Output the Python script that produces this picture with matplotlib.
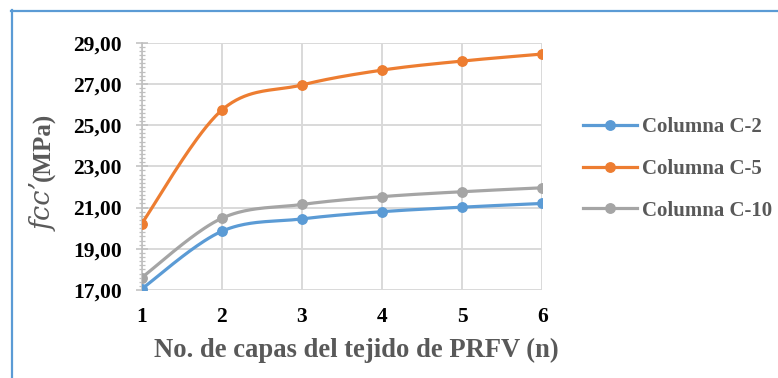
import numpy as np
import matplotlib
matplotlib.use("Agg")
import matplotlib.pyplot as plt
from matplotlib.lines import Line2D
from matplotlib.ticker import MultipleLocator, FuncFormatter

plt.rcParams["font.family"] = ["Liberation Serif", "DejaVu Serif"]

# Number of FRP layers
capas = [1, 2, 3, 4, 5, 6]

# Confined strength f'cc (MPa) per column
columna_c2 = [17.05, 19.85, 20.45, 20.80, 21.02, 21.20]
columna_c5 = [20.22, 25.73, 26.95, 27.67, 28.11, 28.45]
columna_c10 = [17.60, 20.48, 21.15, 21.53, 21.77, 21.96]

series_labels = ["Columna C-2", "Columna C-5", "Columna C-10"]
series_colors = ["#5B9BD5", "#ED7D31", "#A5A5A5"]

y_ticks = [17, 19, 21, 23, 25, 27, 29]


def smooth(x, y, n=40):
    """Piecewise cubic Bezier curve through the points (Catmull-Rom style)."""
    x = np.asarray(x, float)
    y = np.asarray(y, float)
    px = np.concatenate([[x[0]], x, [x[-1]]])
    py = np.concatenate([[y[0]], y, [y[-1]]])
    t = np.linspace(0, 1, n)[:, None]
    xs, ys = [], []
    for i in range(len(x) - 1):
        p0 = np.array([px[i + 1], py[i + 1]])
        p3 = np.array([px[i + 2], py[i + 2]])
        c1 = p0 + (np.array([px[i + 2], py[i + 2]]) - np.array([px[i], py[i]])) / 6
        c2 = p3 - (np.array([px[i + 3], py[i + 3]]) - np.array([px[i + 1], py[i + 1]])) / 6
        b = ((1 - t) ** 3) * p0 + 3 * ((1 - t) ** 2) * t * c1 + 3 * (1 - t) * t ** 2 * c2 + t ** 3 * p3
        xs.append(b[:, 0])
        ys.append(b[:, 1])
    return np.concatenate(xs), np.concatenate(ys)


W, H = 778, 378
fig = plt.figure(figsize=(W / 100, H / 100), dpi=100)
ax = fig.add_axes([141.7 / W, 1 - 290 / H, 400.6 / W, 247.3 / H])

grid_c = "#D9D9D9"
for data, color, label in zip([columna_c2, columna_c5, columna_c10], series_colors, series_labels):
    sx, sy = smooth(capas, data)
    ax.plot(sx, sy, color=color, lw=2.3, solid_capstyle="round", zorder=3)
    ax.plot(capas, data, "o", color=color, ms=6.8, zorder=4)

ax.set_xlim(1, 6)
ax.set_ylim(17, 29)
ax.set_xticks(capas)
ax.set_yticks(y_ticks)
ax.yaxis.set_minor_locator(MultipleLocator(0.2))
ax.yaxis.set_major_formatter(FuncFormatter(lambda v, p: f"{v:.2f}".replace(".", ",")))

ax.grid(True, which="major", color=grid_c, lw=1.4, zorder=0)
for s in ["top", "right", "bottom"]:
    ax.spines[s].set_visible(False)
ax.spines["left"].set_color("#BFBFBF")
ax.spines["left"].set_linewidth(1.2)

ax.tick_params(axis="y", which="major", direction="inout", length=8, width=1.1,
               color="#BFBFBF", pad=10.5, labelsize=15.5, labelcolor="black")
ax.tick_params(axis="y", which="minor", direction="inout", length=5, width=0.9,
               color="#BFBFBF")
ax.tick_params(axis="x", which="both", length=0, pad=12, labelsize=15.5, labelcolor="black")
for lab in ax.get_xticklabels() + ax.get_yticklabels():
    lab.set_fontweight("bold")

ax.set_xlabel("No. de capas del tejido de PRFV (n)", fontsize=19.2, fontweight="bold",
              color="#595959")
ax.xaxis.set_label_coords(0.536, -0.195)

# Y axis title: italic symbol followed by the bold unit, stacked along the rotated baseline
lab_x = 44 / W
sym = fig.text(lab_x, 1 - 231 / H, "fcc’", rotation=90, ha="center", va="bottom",
               fontsize=19.5, style="italic", family=["DejaVu Serif"], color="#595959")
fig.canvas.draw()
bb = sym.get_window_extent(fig.canvas.get_renderer()).transformed(fig.transFigure.inverted())
fig.text(lab_x, bb.y1 + 1 / H, "(MPa)", rotation=90, ha="center", va="bottom",
         fontsize=18, fontweight="bold", color="#595959")

handles = [Line2D([], [], color=c, lw=2.3, marker="o", ms=6.8) for c in series_colors]
leg = fig.legend(handles, series_labels, loc="upper left", bbox_to_anchor=(583 / W, 1 - 117 / H),
                 frameon=False, borderpad=0, borderaxespad=0, handlelength=2.6, handletextpad=0.25,
                 labelspacing=1.05, prop={"family": "Liberation Serif", "weight": "bold", "size": 15})
for t in leg.get_texts():
    t.set_color("#595959")

# Blue frame around the chart area
border = "#5B9BD5"
fig.add_artist(Line2D([11 / W, 1.01], [1 - 10.5 / H, 1 - 10.5 / H], color=border, lw=1.6,
                      transform=fig.transFigure))
fig.add_artist(Line2D([11.5 / W, 11.5 / W], [-0.01, 1 - 10 / H], color=border, lw=1.6,
                      transform=fig.transFigure))

fig.savefig("out.png", dpi=100)
